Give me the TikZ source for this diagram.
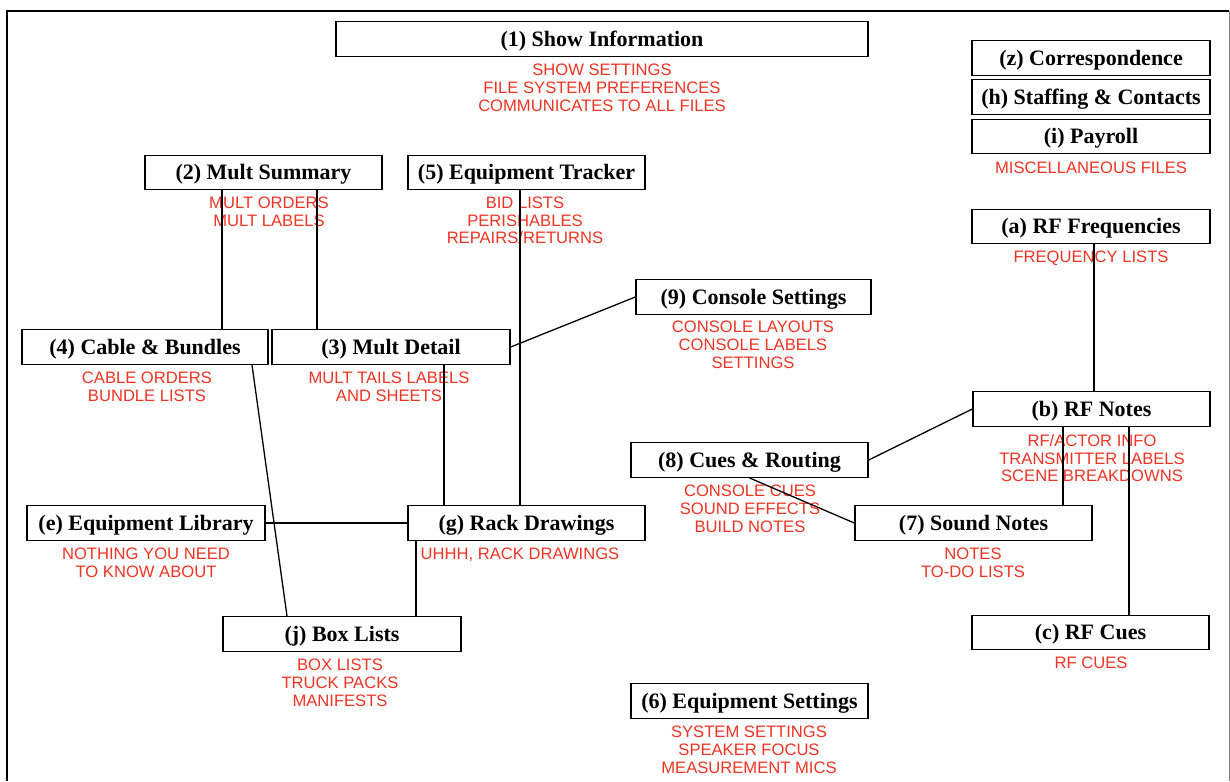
\documentclass[tikz,border=0pt]{standalone}
\usepackage{fontspec}
\setmainfont{Liberation Serif}
\newfontfamily\notefont{Liberation Sans}
\definecolor{notered}{RGB}{238,52,36}
\begin{document}
\begin{tikzpicture}[x=1pt,y=-1pt,
  box/.style={draw, line width=1.4pt, inner sep=0pt, minimum height=34.5pt,
    text height=16pt, text depth=1.4pt,
    font=\fontsize{22}{24}\selectfont\bfseries},
  note/.style={anchor=north, inner sep=0pt, align=center, text=notered,
    font=\notefont\fontsize{16.6}{17.8}\selectfont},
  link/.style={line width=1.3pt}]
\useasboundingbox (0,0) rectangle (1230,781);
\draw[line width=1.5pt] (7,781) -- (7,11) -- (1229,11);
\draw[gray, line width=0.8pt] (1229,11) -- (1229,781);

% boxes
\node[box, minimum width=532pt] (n1) at (602,39) {(1) Show Information};
\node[box, minimum width=238pt] (nz) at (1091,58) {(z) Correspondence};
\node[box, minimum width=238pt] (nh) at (1091,97) {(h) Staffing \& Contacts};
\node[box, minimum width=238pt] (ni) at (1091,136.5) {(i) Payroll};
\node[box, minimum width=238pt] (na) at (1091,226.5) {(a) RF Frequencies};
\node[box, minimum width=237pt] (n2) at (263.5,172.5) {(2) Mult Summary};
\node[box, minimum width=237pt] (n5) at (526.5,172.5) {(5) Equipment Tracker};
\node[box, minimum width=235pt] (n9) at (753.5,297) {(9) Console Settings};
\node[box, minimum width=246pt] (n4) at (145,347) {(4) Cable \& Bundles};
\node[box, minimum width=238pt] (n3) at (391,347) {(3) Mult Detail};
\node[box, minimum width=237pt] (nb) at (1091.5,409) {(b) RF Notes};
\node[box, minimum width=237pt] (n8) at (749.5,460) {(8) Cues \& Routing};
\node[box, minimum width=238pt] (ne) at (146,523) {(e) Equipment Library};
\node[box, minimum width=237pt] (ng) at (526.5,523) {(g) Rack Drawings};
\node[box, minimum width=237pt] (n7) at (973.5,523) {(7) Sound Notes};
\node[box, minimum width=237pt] (nc) at (1090.5,632.5) {(c) RF Cues};
\node[box, minimum width=238pt] (nj) at (342,634) {(j) Box Lists};
\node[box, minimum width=237pt] (n6) at (749.5,701) {(6) Equipment Settings};

% notes
\node[note] (t1) at (602,64) {SHOW SETTINGS\\FILE SYSTEM PREFERENCES\\COMMUNICATES TO ALL FILES};
\node[note] (ti) at (1091,162) {MISCELLANEOUS FILES};
\node[note] (ta) at (1091,251) {FREQUENCY LISTS};
\node[note] (t2) at (269,196.5) {MULT ORDERS\\MULT LABELS};
\node[note] (t5) at (525,196.5) {BID LISTS\\PERISHABLES\\REPAIRS/RETURNS};
\node[note] (t9) at (753,321) {CONSOLE LAYOUTS\\CONSOLE LABELS\\SETTINGS};
\node[note] (t4) at (147,372) {CABLE ORDERS\\BUNDLE LISTS};
\node[note] (t3) at (389,372) {MULT TAILS LABELS\\AND SHEETS};
\node[note] (tb) at (1092,434) {RF/ACTOR INFO\\TRANSMITTER LABELS\\SCENE BREAKDOWNS};
\node[note] (t8) at (750,485) {CONSOLE CUES\\SOUND EFFECTS\\BUILD NOTES};
\node[note] (te) at (146,548) {NOTHING YOU NEED\\TO KNOW ABOUT};
\node[note] (tg) at (520,548) {UHHH, RACK DRAWINGS};
\node[note] (t7) at (973,548) {NOTES\\TO-DO LISTS};
\node[note] (tc) at (1091,657) {RF CUES};
\node[note] (tj) at (340,659) {BOX LISTS\\TRUCK PACKS\\MANIFESTS};
\node[note] (t6) at (749,726) {SYSTEM SETTINGS\\SPEAKER FOCUS\\MEASUREMENT MICS};

% connectors
\draw[link] (n2.south -| 222,0) -- (n4.north -| 222,0);
\draw[link] (n2.south -| 317,0) -- (n3.north -| 317,0);
\draw[link] (n3.east) -- (n9.west);
\draw[link] (n3.south -| 444,0) -- (ng.north -| 444,0);
\draw[link] (n5.south -| 520,0) -- (ng.north -| 520,0);
\draw[link] (n4.south -| 252,0) -- (nj.north -| 287,0);
\draw[link] (ne.east) -- (ng.west);
\draw[link] (ng.south -| 416,0) -- (nj.north -| 416,0);
\draw[link] (na.south -| 1094,0) -- (nb.north -| 1094,0);
\draw[link] (n8.east) -- (nb.west);
\draw[link] (n8.south) -- (n7.west);
\draw[link] (nb.south -| 1063,0) -- (n7.north -| 1063,0);
\draw[link] (nb.south -| 1129,0) -- (nc.north -| 1129,0);
\end{tikzpicture}
\end{document}
